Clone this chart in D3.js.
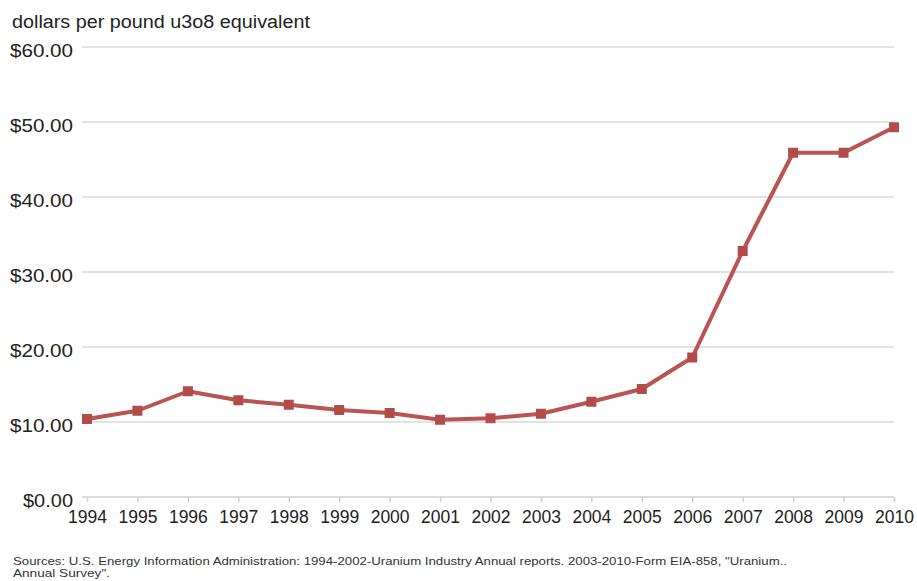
<!DOCTYPE html>
<html><head><meta charset="utf-8">
<script src="https://cdn.jsdelivr.net/npm/d3@7"></script>
<style>body{margin:0;background:#fff;}svg{display:block;font-family:"Liberation Sans",Arial,sans-serif;}</style>
</head><body>
<svg id="c" width="917" height="581"></svg>
<script>
const years = [1994,1995,1996,1997,1998,1999,2000,2001,2002,2003,2004,2005,2006,2007,2008,2009,2010];
const prices = [10.4,11.5,14.1,12.9,12.3,11.6,11.2,10.3,10.5,11.1,12.7,14.4,18.6,32.8,45.9,45.9,49.3];
const yTicks = [0,10,20,30,40,50,60];
const title = "dollars per pound u3o8 equivalent";
const sources = ["Sources: U.S. Energy Information Administration: 1994-2002-Uranium Industry Annual reports. 2003-2010-Form EIA-858, \"Uranium..", "Annual Survey\"."];
const sourceWidths = [774, 97];

const svg = d3.select("#c");
const x = d3.scalePoint().domain(years).range([87, 894]);
const y = d3.scaleLinear().domain([0, 60]).range([497, 47]);

// gridlines
svg.append("g").selectAll("line").data(yTicks.filter(d=>d>0)).join("line")
  .attr("x1", 82).attr("x2", 894).attr("y1", d=>y(d)).attr("y2", d=>y(d))
  .attr("stroke", "#d9d9d9").attr("stroke-width", 1.5);

// y labels
svg.append("g").selectAll("text").data(yTicks).join("text")
  .attr("x", 73).attr("y", d=>y(d) + 3).attr("dy", "0.35em")
  .attr("text-anchor", "end").attr("font-size", 19).attr("fill", "#222")
  .attr("textLength", d=>d===0 ? 50 : 63).attr("lengthAdjust", "spacingAndGlyphs")
  .text(d=>"$" + d.toFixed(2));

// x axis
const xa = svg.append("g").attr("transform", `translate(0,${y(0)})`)
  .call(d3.axisBottom(x).tickSize(5).tickSizeOuter(0).tickPadding(9));
xa.select(".domain").attr("stroke", "#d0d0d0").attr("stroke-width", 1.5).attr("d", `M82,0H894`);
xa.selectAll(".tick line").attr("stroke", "#cfcfcf").attr("stroke-width", 1.5);
xa.selectAll(".tick text").attr("font-size", 17.5).attr("fill", "#222")
  .attr("font-family", "'Liberation Sans',Arial,sans-serif");

// line
const line = d3.line().x((d,i)=>x(years[i])).y(d=>y(d));
svg.append("path").datum(prices).attr("d", line)
  .attr("fill", "none").attr("stroke", "#b85452").attr("stroke-width", 4).attr("stroke-linejoin", "round");

svg.append("g").selectAll("rect").data(prices).join("rect")
  .attr("x", (d,i)=>x(years[i]) - 5).attr("y", d=>y(d) - 5)
  .attr("width", 10).attr("height", 10).attr("fill", "#b14c4b");

// title
svg.append("text").attr("x", 12).attr("y", 28).attr("font-size", 18).attr("fill", "#222")
  .attr("textLength", 298).attr("lengthAdjust", "spacingAndGlyphs").text(title);

// sources
svg.append("g").selectAll("text").data(sources).join("text")
  .attr("x", 13).attr("y", (d,i)=>565 + i*12).attr("font-size", 11).attr("fill", "#333")
  .attr("textLength", (d,i)=>sourceWidths[i]).attr("lengthAdjust", "spacingAndGlyphs")
  .text(d=>d);
</script>
</body></html>
